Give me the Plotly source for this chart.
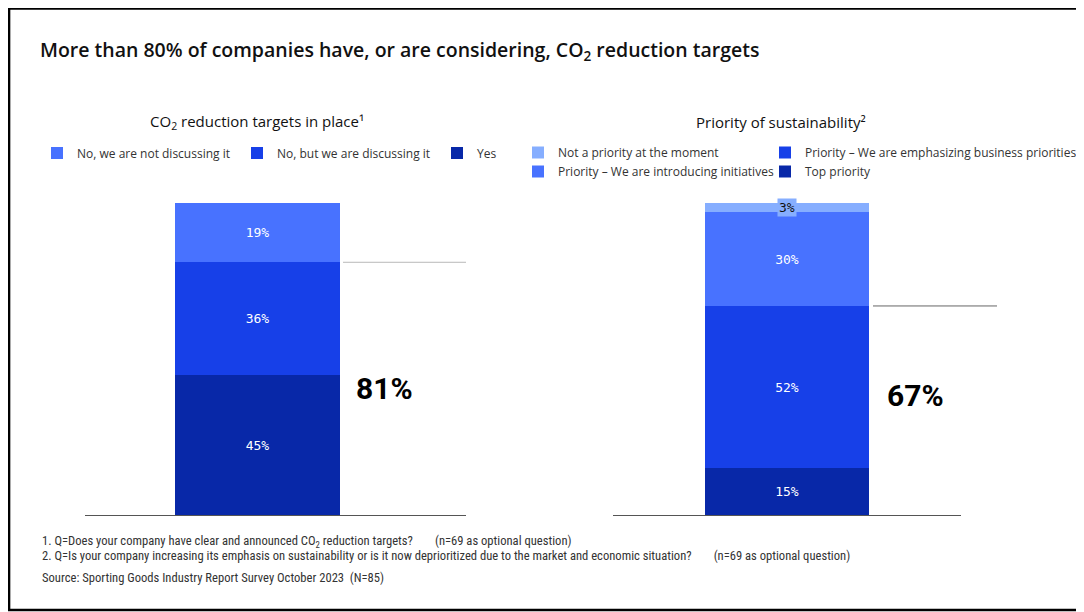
import plotly.graph_objects as go

# the page body adds an 8px margin, so the figure is a bit smaller and
# every reference pixel position is shifted by that offset
OFF = 8
W, H = 1084 - OFF, 612 - OFF


def px(x):
    return (x - OFF) / W


def py(y):
    return 1 - (y - OFF) / H


# data
co2_labels = ["Yes", "No, but we are discussing it", "No, we are not discussing it"]
co2_values = [45, 36, 19]
prio_labels = ["Top priority", "Priority \u2013 We are emphasizing business priorities",
               "Priority \u2013 We are introducing initiatives", "Not a priority at the moment"]
prio_values = [15, 52, 30, 3]
prio_legend = ["legend3", "legend3", "legend2", "legend2"]
blues = ["#0828A8", "#1740E8", "#4872FF", "#86AEFF"]

label_font = dict(family="DejaVu Sans Mono, monospace", size=13, color="white")

fig = go.Figure()

for lab, val, col in zip(co2_labels, co2_values, blues):
    fig.add_trace(go.Bar(
        x=[0], y=[val], name=lab, marker_color=col, marker_line_width=0, width=1,
        xaxis="x", yaxis="y", legend="legend",
        text=[f"{val}%"], textposition="inside", insidetextanchor="middle",
        textangle=0, textfont=label_font, hoverinfo="name+y",
    ))

for lab, val, col, lg in zip(prio_labels, prio_values, blues, prio_legend):
    small = val < 5
    fig.add_trace(go.Bar(
        x=[0], y=[val], name=lab, marker_color=col, marker_line_width=0, width=1,
        xaxis="x2", yaxis="y2", legend=lg,
        text=None if small else [f"{val}%"], textposition="inside",
        insidetextanchor="middle", textangle=0, textfont=label_font,
        hoverinfo="name+y",
    ))

# small top segment gets its label as a boxed annotation
top_val = prio_values[-1]
top_mid = sum(prio_values[:-1]) + top_val / 2

legend_common = dict(
    font=dict(family="Open Sans, sans-serif", size=12, color="#333"),
    bgcolor="rgba(0,0,0,0)", traceorder="reversed",
)

fig.update_layout(
    width=W, height=H,
    margin=dict(l=0, r=0, t=0, b=0),
    paper_bgcolor="white", plot_bgcolor="white",
    barmode="stack",
    bargap=0,
    title=dict(
        text="More than 80% of companies have, or are considering, CO<sub>2</sub> reduction targets",
        x=px(40), xanchor="left", y=py(50), yanchor="middle",
        font=dict(family="Open Sans, sans-serif", size=19.5, color="#111", weight=600),
    ),
    xaxis=dict(domain=[px(85), px(466)], range=[-1.045, 1.264], anchor="y",
               showline=True, linecolor="#555", linewidth=1, showticklabels=False,
               ticks="", showgrid=False, zeroline=False, fixedrange=True),
    yaxis=dict(domain=[py(515), py(203)], range=[0, 100], anchor="x", visible=False,
               fixedrange=True),
    xaxis2=dict(domain=[px(613), px(961)], range=[-1.061, 1.061], anchor="y2",
                showline=True, linecolor="#555", linewidth=1, showticklabels=False,
                ticks="", showgrid=False, zeroline=False, fixedrange=True),
    yaxis2=dict(domain=[py(515), py(203)], range=[0, 100], anchor="x2", visible=False,
                fixedrange=True),
    legend=dict(orientation="h", x=px(37), xanchor="left", y=py(153), yanchor="middle",
                entrywidth=155, **legend_common),
    legend2=dict(orientation="v", x=px(518), xanchor="left", y=py(138), yanchor="top",
                 **legend_common),
    legend3=dict(orientation="v", x=px(765), xanchor="left", y=py(138), yanchor="top",
                 **legend_common),
    showlegend=True,
)

sub_font = dict(family="Open Sans, sans-serif", size=15, color="#111")
foot_font = dict(family="Liberation Sans Narrow, Roboto Condensed, Arial Narrow, sans-serif",
                 size=12.6, color="#333")
big_font = dict(family="Roboto, sans-serif", size=30, color="black", weight=700)

ann = [
    dict(text="CO<sub>2</sub> reduction targets in place\u00b9", x=px(257), y=py(122),
         font=sub_font),
    dict(text="Priority of sustainability\u00b2", x=px(781), y=py(122), font=sub_font),
    dict(text=f"{co2_values[0] + co2_values[1]}%", x=px(384), y=py(388), font=big_font),
    dict(text=f"{prio_values[0] + prio_values[1]}%", x=px(915), y=py(396), font=big_font),
    dict(text="1. Q=Does your company have clear and announced CO<sub>2</sub> reduction targets?"
              "\u2003\u2003(n=69 as optional question)",
         x=px(40), y=py(541), xanchor="left", font=foot_font),
    dict(text="2. Q=Is your company increasing its emphasis on sustainability or is it now "
              "deprioritized due to the market and economic situation?\u2003\u2003(n=69 as optional question)",
         x=px(40), y=py(555), xanchor="left", font=foot_font),
    dict(text="Source: Sporting Goods Industry Report Survey October 2023\u2002(N=85)",
         x=px(40), y=py(577), xanchor="left", font=foot_font),
]
for a in ann:
    a.setdefault("xref", "paper")
    a.setdefault("yref", "paper")
    a.setdefault("xanchor", "center")
    a.setdefault("yanchor", "middle")
    a["showarrow"] = False
    fig.add_annotation(**a)

fig.add_annotation(
    text=f"{top_val}%", x=0, y=top_mid, xref="x2", yref="y2", showarrow=False,
    bgcolor=blues[3], borderpad=1,
    font=dict(family="DejaVu Sans Mono, monospace", size=13, color="#111"),
)

# bracket lines at cumulative totals
fig.add_shape(type="line", xref="paper", yref="y", x0=px(343), x1=px(466),
              y0=co2_values[0] + co2_values[1], y1=co2_values[0] + co2_values[1],
              line=dict(color="#b8b8b8", width=1))
fig.add_shape(type="line", xref="paper", yref="y2", x0=px(873), x1=px(997),
              y0=prio_values[0] + prio_values[1], y1=prio_values[0] + prio_values[1],
              line=dict(color="#666", width=1))

# frame
fig.add_shape(type="rect", xref="paper", yref="paper", x0=0.001, x1=px(1082),
              y0=py(610), y1=0.999, line=dict(color="black", width=2.5))

fig.write_html("out.html")
